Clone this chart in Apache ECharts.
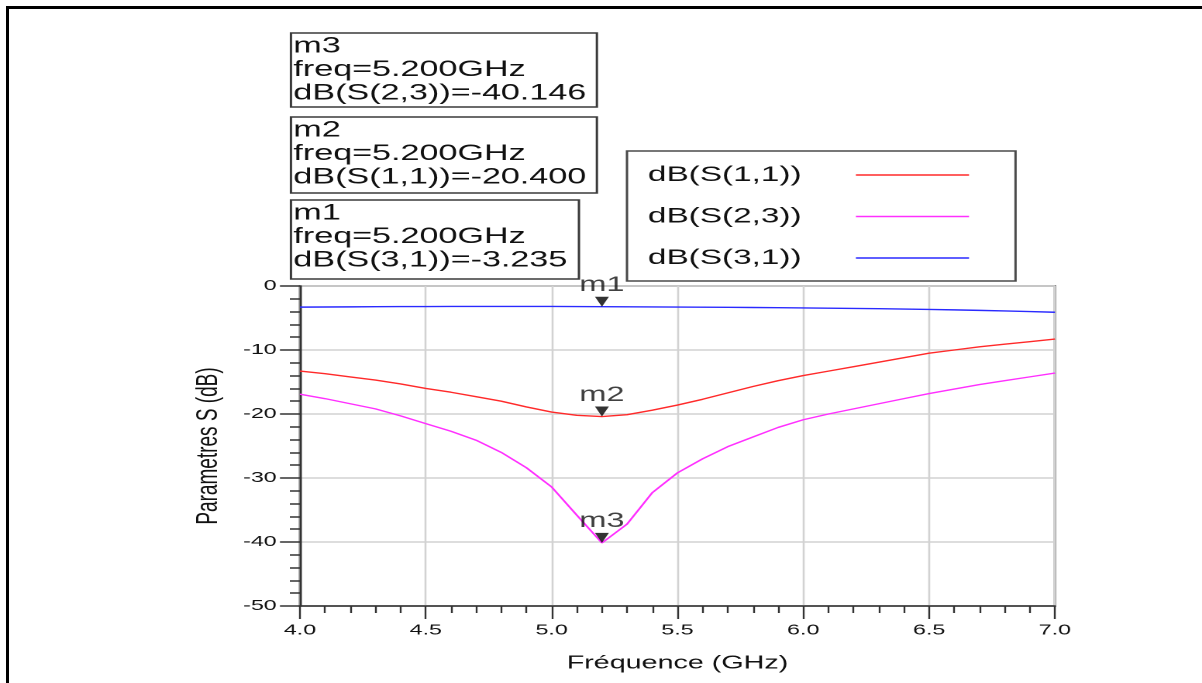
<!DOCTYPE html>
<html><head><meta charset="utf-8">
<script src="https://cdn.jsdelivr.net/npm/echarts@6/dist/echarts.min.js"></script>
<style>
html,body{margin:0;padding:0;background:#fff;width:1202px;height:683px;overflow:hidden;}
#frame{position:absolute;left:6px;top:6px;width:1196px;height:677px;border-left:3px solid #000;border-top:3px solid #000;box-sizing:border-box;pointer-events:none;}
#chart{position:absolute;left:0;top:0;width:775.5px;height:683px;transform:scaleX(1.55);transform-origin:0 0;}
</style></head><body>
<div id="chart"></div><div id="frame"></div>
<script>
// ---- data ----
const freqGHz = [4.0,4.1,4.2,4.3,4.4,4.5,4.6,4.7,4.8,4.9,5.0,5.1,5.2,5.3,5.4,5.5,5.6,5.7,5.8,5.9,6.0,6.1,6.2,6.3,6.4,6.5,6.6,6.7,6.8,6.9,7.0];
const dB_S11 = [-13.3,-13.7,-14.2,-14.7,-15.3,-16.0,-16.6,-17.3,-18.0,-18.9,-19.7,-20.2,-20.4,-20.1,-19.4,-18.6,-17.7,-16.7,-15.7,-14.8,-14.0,-13.3,-12.6,-11.9,-11.2,-10.5,-10.0,-9.5,-9.1,-8.7,-8.3];
const dB_S23 = [-16.9,-17.6,-18.4,-19.2,-20.3,-21.5,-22.7,-24.1,-26.0,-28.4,-31.4,-35.8,-40.146,-37.2,-32.3,-29.2,-27.0,-25.1,-23.6,-22.1,-20.9,-20.0,-19.2,-18.4,-17.6,-16.8,-16.1,-15.4,-14.8,-14.2,-13.6];
const dB_S31 = [-3.30,-3.28,-3.26,-3.24,-3.22,-3.21,-3.20,-3.19,-3.19,-3.19,-3.20,-3.22,-3.235,-3.25,-3.27,-3.29,-3.31,-3.33,-3.36,-3.39,-3.42,-3.46,-3.50,-3.55,-3.60,-3.66,-3.73,-3.81,-3.90,-4.00,-4.10];
const seriesNames = ['dB(S(1,1))','dB(S(2,3))','dB(S(3,1))'];
const markerNames = ['m1','m2','m3'];
const markerTraces = ['dB(S(3,1))','dB(S(1,1))','dB(S(2,3))'];
const markerFreqGHz = [5.2,5.2,5.2];
const markerValues = [-3.235,-20.400,-40.146];
const xAxisName = 'Fréquence (GHz)';
const yAxisName = 'Parametres S (dB)';

// ---- layout / style ----
const font = '"Liberation Sans", Arial, sans-serif';
const colors = {'dB(S(1,1))':'#ff2a2a','dB(S(2,3))':'#ff30ff','dB(S(3,1))':'#2a2aff'};
const pairs = vals => freqGHz.map((f,i)=>[f, vals[i]]);
const seriesVals = {'dB(S(1,1))':dB_S11,'dB(S(2,3))':dB_S23,'dB(S(3,1))':dB_S31};

// marker boxes (top to bottom: m3, m2, m1)
const boxLayout = {m3:{top:33,h:74,w:197.4}, m2:{top:117,h:76,w:197.4}, m1:{top:200,h:79,w:185.8}};
const boxLeft = 187.7;
const graphics = [];
markerNames.forEach((m,i)=>{
  const b = boxLayout[m];
  const txt = m + '\nfreq=' + markerFreqGHz[i].toFixed(3) + 'GHz\n' + markerTraces[i] + '=' + markerValues[i].toFixed(3);
  graphics.push({type:'group', children:[
    {type:'rect', shape:{x:boxLeft, y:b.top, width:b.w, height:b.h}, style:{fill:'#fff', stroke:'#3a3a3a', lineWidth:1.5}},
    {type:'text', x:boxLeft+1.6, y:b.top+1.5, style:{text:txt, font:'22px '+font, fill:'#111', lineHeight:23.5, verticalAlign:'top'}}
  ]});
});

const chart = echarts.init(document.getElementById('chart'), null, {renderer:'canvas', devicePixelRatio:2});
const axisCol = '#333';
const option = {
  animation:false,
  backgroundColor:'transparent',
  grid:{left:193.5, top:286, width:487.1, height:320, show:true, borderColor:'#4a4a4a', borderWidth:1.5, backgroundColor:'transparent'},
  xAxis:{type:'value', min:4, max:7, interval:0.5, position:'bottom',
    name:xAxisName, nameLocation:'middle', nameGap:48, nameTextStyle:{fontSize:18.5, fontFamily:font, color:'#111'},
    axisLine:{onZero:false, lineStyle:{color:axisCol, width:1.5}},
    axisTick:{length:13, lineStyle:{color:axisCol, width:1.2}},
    minorTick:{show:true, splitNumber:5, length:7, lineStyle:{color:axisCol, width:1.2}},
    axisLabel:{fontSize:15, fontFamily:font, color:'#111', margin:17, formatter:v=>v.toFixed(1)},
    splitLine:{show:true, lineStyle:{color:'#d2d2d2', width:1.3}}
  },
  yAxis:{type:'value', min:-50, max:0, interval:10, position:'left',
    name:yAxisName, nameLocation:'middle', nameGap:49, nameRotate:90, nameTextStyle:{fontSize:19, fontFamily:font, color:'#111'},
    axisLine:{onZero:false, lineStyle:{color:axisCol, width:1.5}},
    axisTick:{length:12.9, lineStyle:{color:axisCol, width:1.5}},
    minorTick:{show:true, splitNumber:5, length:6.5, lineStyle:{color:axisCol, width:1.5}},
    axisLabel:{fontSize:15, fontFamily:font, color:'#111', margin:15},
    splitLine:{show:true, lineStyle:{color:'#d2d2d2', width:1.5}}
  },
  legend:{orient:'vertical', left:404.5, top:151, data:seriesNames, align:'right',
    icon:'rect', itemWidth:73, itemHeight:1.4,
    padding:[13,30,12,13.5], itemGap:19.5,
    borderColor:'#4a4a4a', borderWidth:1.5, backgroundColor:'#fff',
    formatter:n=>'{a|'+n+'}',
    textStyle:{fontSize:21.5, fontFamily:font, color:'#111', rich:{a:{fontSize:21.5, fontFamily:font, color:'#111', lineHeight:20, padding:[0,30,0,0]}}}
  },
  graphic:graphics,
  series:[
    ...['dB(S(3,1))','dB(S(1,1))','dB(S(2,3))'].map(n=>({name:n, type:'line', symbol:'none', data:pairs(seriesVals[n]),
      lineStyle:{color:colors[n], width:1.4}, itemStyle:{color:colors[n]}, z:3})),
    {name:'markers', type:'scatter', symbol:'triangle', symbolRotate:180, symbolSize:[9,10], symbolOffset:[0,-5],
      itemStyle:{color:'#000'}, z:5,
      data:markerFreqGHz.map((f,i)=>[f, markerValues[i], markerNames[i]]),
      label:{show:true, position:'top', distance:1, formatter:p=>p.data[2], fontSize:21, fontFamily:font, color:'#111'}
    }
  ]
};
chart.setOption(option);
</script>
</body></html>
